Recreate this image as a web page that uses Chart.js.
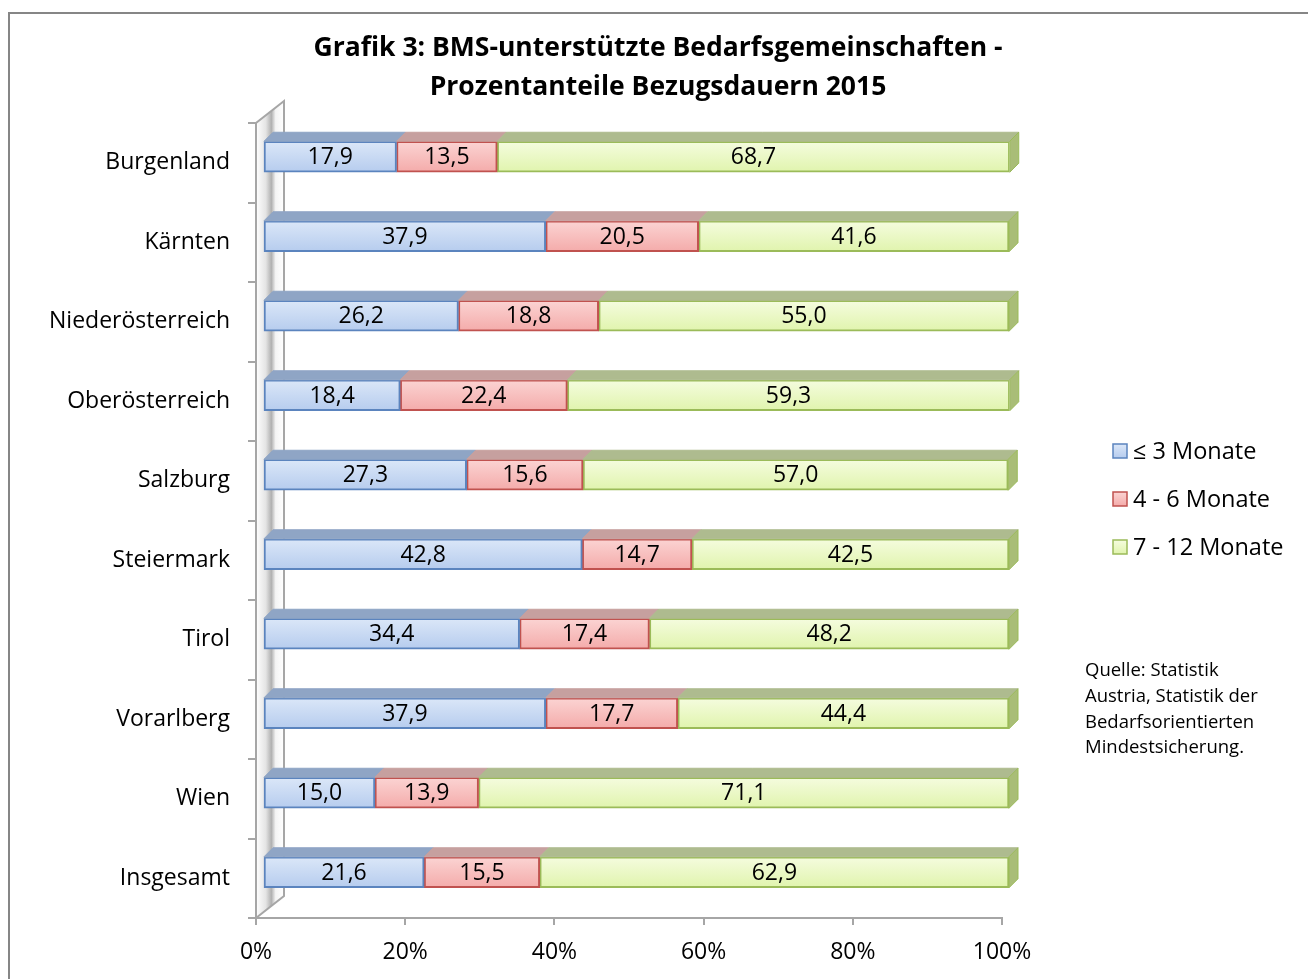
<!DOCTYPE html>
<html>
<head>
	<meta charset="utf-8">
	<title>Grafik 3</title>
	<script src="https://cdn.jsdelivr.net/npm/chart.js@4"></script>
	<style>
		body { margin: 0; background: #ffffff; }
		canvas { display: block; }
	</style>
</head>
<body>
<canvas id="bmsChart" width="1308" height="979"></canvas>
<script>
// Daten aus der Grafik
const regionen = ["Burgenland", "Kärnten", "Niederösterreich", "Oberösterreich", "Salzburg",
	"Steiermark", "Tirol", "Vorarlberg", "Wien", "Insgesamt"];
const bis3Monate  = [17.9, 37.9, 26.2, 18.4, 27.3, 42.8, 34.4, 37.9, 15.0, 21.6];
const bis6Monate  = [13.5, 20.5, 18.8, 22.4, 15.6, 14.7, 17.4, 17.7, 13.9, 15.5];
const bis12Monate = [68.7, 41.6, 55.0, 59.3, 57.0, 42.5, 48.2, 44.4, 71.1, 62.9];
const serienNamen = ["≤ 3 Monate", "4 - 6 Monate", "7 - 12 Monate"];
const xTicks = [0, 20, 40, 60, 80, 100];
const titelZeilen = ["Grafik 3: BMS-unterstützte Bedarfsgemeinschaften -",
	"Prozentanteile Bezugsdauern 2015"];
const quelle = ["Quelle: Statistik", "Austria, Statistik der", "Bedarfsorientierten", "Mindestsicherung."];

const FONT = "'Open Sans', 'Noto Sans', sans-serif";
const frontHell   = ["#dbe7f8", "#fbd4d3", "#f5fcdf"];
const frontDunkel = ["#b6ccee", "#f4abaa", "#e0f4ad"];
const front = ["#c9dbf3", "#f6bfbe", "#ebf8c9"];
const rand  = ["#5b84be", "#c0524f", "#9bbb59"];
const oben  = ["#8fa5c5", "#c6a09f", "#aebb8f"];
const seite = "#a9bd77";
const DX = 7, DY = -6;     // Versatz der Balken (3D)
const TIEFE = 9;           // Tiefe der Balken
const DICKE = 31;          // Balkendicke

// 3D-Wand, Rahmen, Titel, Legende, Quelle
const deko = {
	id: "deko",
	beforeDraw(chart) {
		const ctx = chart.ctx, a = chart.chartArea;
		ctx.save();
		ctx.fillStyle = "#ffffff";
		ctx.fillRect(0, 0, chart.width, chart.height);
		// Rahmen
		ctx.strokeStyle = "#868686";
		ctx.lineWidth = 2;
		ctx.strokeRect(9, 13, 1310, 1000);
		// Wand links
		const w = 28, h = 22;
		let g = ctx.createLinearGradient(a.left, 0, a.left + w, 0);
		g.addColorStop(0, "#ffffff");
		g.addColorStop(0.35, "#e4e4e4");
		g.addColorStop(0.55, "#b0b0b0");
		g.addColorStop(0.7, "#f4f4f4");
		g.addColorStop(1, "#ffffff");
		ctx.fillStyle = g;
		ctx.beginPath();
		ctx.moveTo(a.left, a.top);
		ctx.lineTo(a.left + w, a.top - h);
		ctx.lineTo(a.left + w, a.bottom - h);
		ctx.lineTo(a.left, a.bottom);
		ctx.closePath();
		ctx.fill();
		ctx.strokeStyle = "#a6a6a6";
		ctx.lineWidth = 2;
		ctx.beginPath();
		ctx.moveTo(a.left, a.bottom);
		ctx.lineTo(a.left, a.top);
		ctx.lineTo(a.left + w, a.top - h);
		ctx.lineTo(a.left + w, a.bottom - h);
		ctx.lineTo(a.left, a.bottom);
		ctx.stroke();
		ctx.restore();
	},
	afterDraw(chart) {
		const ctx = chart.ctx;
		ctx.save();
		ctx.fillStyle = "#000000";
		ctx.textAlign = "center";
		ctx.textBaseline = "middle";
		ctx.font = "bold 26.5px " + FONT;
		ctx.fillText(titelZeilen[0], 658, 48);
		ctx.fillText(titelZeilen[1], 658, 87);
		// Legende
		ctx.font = "23.5px " + FONT;
		ctx.textAlign = "left";
		serienNamen.forEach((n, i) => {
			const y = 451 + i * 48;
			const g = ctx.createLinearGradient(0, y - 7, 0, y + 7);
			g.addColorStop(0, frontHell[i]);
			g.addColorStop(1, frontDunkel[i]);
			ctx.fillStyle = g;
			ctx.fillRect(1113, y - 7, 14, 14);
			ctx.strokeStyle = rand[i];
			ctx.lineWidth = 1.5;
			ctx.strokeRect(1113, y - 7, 14, 14);
			ctx.fillStyle = "#000000";
			ctx.fillText(n, 1133, y + 1);
		});
		// Quelle
		ctx.font = "18.5px " + FONT;
		quelle.forEach((z, i) => ctx.fillText(z, 1085, 671 + i * 25.7));
		ctx.restore();
	}
};

// Balken versetzt zeichnen, Deckflächen und Werte
const balken3d = {
	id: "balken3d",
	beforeDatasetsDraw(chart) {
		chart.ctx.save();
		chart.ctx.translate(DX, DY);
	},
	afterDatasetsDraw(chart) {
		const ctx = chart.ctx;
		chart.data.datasets.forEach((ds, di) => {
			chart.getDatasetMeta(di).data.forEach(el => {
				const p = el.getProps(["x", "y", "base", "height"], true);
				const top = p.y - p.height / 2, bot = p.y + p.height / 2;
				ctx.fillStyle = oben[di];
				ctx.strokeStyle = oben[di];
				ctx.lineWidth = 1;
				ctx.beginPath();
				ctx.moveTo(p.base, top);
				ctx.lineTo(p.base + TIEFE, top - TIEFE);
				ctx.lineTo(p.x + TIEFE, top - TIEFE);
				ctx.lineTo(p.x, top);
				ctx.closePath();
				ctx.fill();
				ctx.stroke();
				if (di === chart.data.datasets.length - 1) {
					ctx.fillStyle = seite;
					ctx.beginPath();
					ctx.moveTo(p.x, top);
					ctx.lineTo(p.x + TIEFE, top - TIEFE);
					ctx.lineTo(p.x + TIEFE, bot - TIEFE);
					ctx.lineTo(p.x, bot);
					ctx.closePath();
					ctx.fill();
					ctx.strokeStyle = "#9bbb59";
					ctx.stroke();
				}
			});
		});
		ctx.fillStyle = "#000000";
		ctx.font = "23px " + FONT;
		ctx.textAlign = "center";
		ctx.textBaseline = "middle";
		chart.data.datasets.forEach((ds, di) => {
			chart.getDatasetMeta(di).data.forEach((el, i) => {
				const p = el.getProps(["x", "y", "base"], true);
				ctx.fillText(ds.data[i].toFixed(1).replace(".", ","), (p.x + p.base) / 2, p.y + 1);
			});
		});
		ctx.restore();
	}
};

const serien = [bis3Monate, bis6Monate, bis12Monate];

// Farbverlauf je Balken, aus der Kategorie-Skala
function verlauf(di) {
	return c => {
		const y = c.chart.scales.y;
		if (!y || c.dataIndex === undefined) return front[di];
		const m = y.getPixelForValue(c.dataIndex);
		if (!isFinite(m)) return front[di];
		const g = c.chart.ctx.createLinearGradient(0, m - DICKE / 2, 0, m + DICKE / 2);
		g.addColorStop(0, frontHell[di]);
		g.addColorStop(1, frontDunkel[di]);
		return g;
	};
}

new Chart(document.getElementById("bmsChart"), {
	type: "bar",
	data: {
		labels: regionen,
		datasets: serien.map((werte, i) => ({
			label: serienNamen[i],
			data: werte,
			backgroundColor: verlauf(i),
			borderColor: rand[i],
			borderWidth: 2,
			borderSkipped: false,
			barThickness: DICKE
		}))
	},
	options: {
		indexAxis: "y",
		responsive: false,
		animation: false,
		devicePixelRatio: 1,
		layout: { padding: { left: 0, top: 123, right: 306, bottom: 0 } },
		plugins: {
			legend: { display: false },
			title: { display: false },
			tooltip: { enabled: false }
		},
		scales: {
			x: {
				stacked: true,
				min: 0,
				max: 100,
				afterBuildTicks: s => { s.ticks = xTicks.map(v => ({ value: v })); },
				afterFit: s => { s.height = 61; },
				grid: { drawOnChartArea: false, color: "#a6a6a6", lineWidth: 2, tickLength: 7 },
				border: { color: "#a6a6a6", width: 2 },
				ticks: {
					color: "#000000",
					padding: 14,
					font: { family: FONT, size: 23 },
					callback: v => v + "%"
				}
			},
			y: {
				stacked: true,
				afterFit: s => { s.width = 256; },
				grid: { drawOnChartArea: false, offset: true, color: "#a6a6a6", lineWidth: 2, tickLength: 8 },
				border: { display: false },
				ticks: {
					color: "#000000",
					padding: 18,
					font: { family: FONT, size: 23 }
				}
			}
		}
	},
	plugins: [deko, balken3d]
});
</script>
</body>
</html>
